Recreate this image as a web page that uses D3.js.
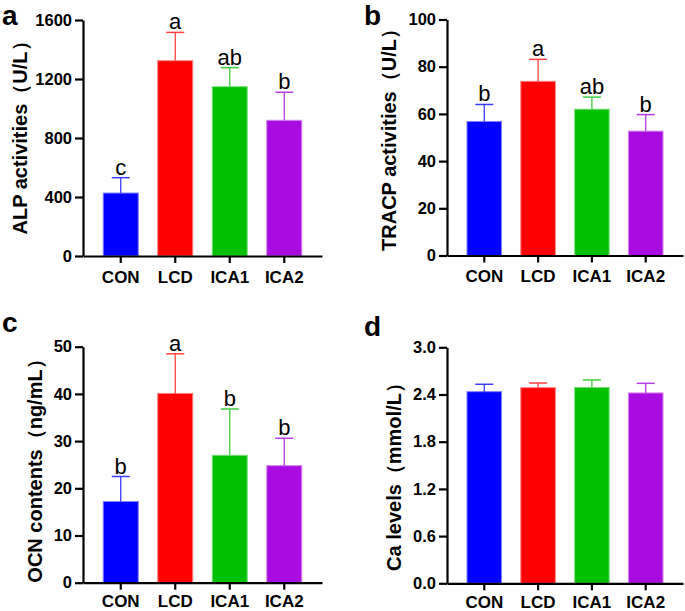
<!DOCTYPE html>
<html><head><meta charset="utf-8">
<script src="https://cdn.jsdelivr.net/npm/d3@7"></script>
<style>
html,body{margin:0;padding:0;background:#fff;}
svg{display:block;font-family:"Liberation Sans",Arial,sans-serif;}
</style></head>
<body>
<svg id="chart" width="685" height="611"></svg>
<script>
const groups = ["CON","LCD","ICA1","ICA2"];
const barColors = ["#0000FF","#FF0000","#00C000","#A90CE0"];
const lineColors = ["#3A3AFF","#FF4040","#40CC40","#B53CE6"];
const edgeColors = ["#7F7FFF","#FF7F7F","#7FDF7F","#D486F0"];

const alpMean = [427, 1324, 1148, 920];
const alpErr  = [531, 1516, 1277, 1110];
const alpTicks = [0, 400, 800, 1200, 1600];
const alpSig = ["c","a","ab","b"];

const tracpMean = [56.8, 73.8, 62.0, 52.7];
const tracpErr  = [64.0, 83.1, 67.1, 59.7];
const tracpTicks = [0, 20, 40, 60, 80, 100];
const tracpSig = ["b","a","ab","b"];

const ocnMean = [17.2, 40.1, 27.0, 24.8];
const ocnErr  = [22.5, 48.5, 36.8, 30.6];
const ocnTicks = [0, 10, 20, 30, 40, 50];
const ocnSig = ["b","a","b","b"];

const caMean = [2.436, 2.487, 2.49, 2.42];
const caErr  = [2.53, 2.546, 2.585, 2.542];
const caTicks = [0.0, 0.6, 1.2, 1.8, 2.4, 3.0];
const caSig = [null,null,null,null];

const svg = d3.select("#chart");
const FF = "'Liberation Sans',Arial,sans-serif";

function panel(cfg){
  const g = svg.append("g");
  const y = d3.scaleLinear().domain([0, cfg.ticks[cfg.ticks.length-1]]).range([cfg.y0, cfg.y1]);
  const x = d3.scaleBand().domain(groups).range([cfg.x0, cfg.x1]).paddingInner(0.339).paddingOuter(0.362);
  const bw = x.bandwidth();

  g.selectAll("rect.bar").data(cfg.mean).join("rect")
    .attr("x", (d,i)=>x(groups[i])+0.5)
    .attr("y", d=>y(d))
    .attr("width", bw-1)
    .attr("height", d=>cfg.y0 - y(d))
    .attr("fill", (d,i)=>barColors[i])
    .attr("stroke", (d,i)=>edgeColors[i])
    .attr("stroke-width", 1);

  const eg = g.selectAll("g.err").data(cfg.err).join("g");
  eg.append("line")
    .attr("x1",(d,i)=>x(groups[i])+bw/2).attr("x2",(d,i)=>x(groups[i])+bw/2)
    .attr("y1",(d,i)=>y(cfg.mean[i])).attr("y2",d=>y(d))
    .attr("stroke",(d,i)=>lineColors[i]).attr("stroke-width",1.3);
  eg.append("line")
    .attr("x1",(d,i)=>x(groups[i])+bw/2-9).attr("x2",(d,i)=>x(groups[i])+bw/2+9)
    .attr("y1",d=>y(d)).attr("y2",d=>y(d))
    .attr("stroke",(d,i)=>lineColors[i]).attr("stroke-width",1.5);

  g.selectAll("text.sig").data(cfg.sig).join("text")
    .filter(d=>d)
    .attr("x",(d,i)=>x(groups[i])+bw/2)
    .attr("y",(d,i)=>y(cfg.err[i])-3)
    .attr("text-anchor","middle")
    .attr("font-size","22px")
    .attr("fill","#000")
    .text(d=>d);

  const ya = g.append("g").attr("transform",`translate(${cfg.x0},0)`)
    .call(d3.axisLeft(y).tickValues(cfg.ticks).tickFormat(cfg.fmt).tickSize(8).tickSizeOuter(0).tickPadding(3));
  ya.select(".domain").attr("stroke","#000").attr("stroke-width",2.2);
  ya.selectAll(".tick line").attr("stroke","#000").attr("stroke-width",2.2);
  ya.selectAll(".tick text").attr("font-size","16.5px").attr("font-weight","bold").attr("fill","#000")
    .attr("font-family",FF);

  const xa = g.append("g").attr("transform",`translate(0,${cfg.y0})`)
    .call(d3.axisBottom(x).tickSize(7).tickSizeOuter(0).tickPadding(cfg.xpad));
  xa.select(".domain").attr("stroke","#000").attr("stroke-width",2.2);
  xa.selectAll(".tick line").attr("stroke","#000").attr("stroke-width",2.2);
  xa.selectAll(".tick text").attr("font-size","17px").attr("font-weight","bold").attr("fill","#000")
    .attr("font-family",FF);

  g.append("text")
    .attr("transform",`translate(${cfg.tx},${cfg.ty}) rotate(-90)`)
    .attr("text-anchor","middle")
    .attr("font-size","20px").attr("font-weight","bold")
    .text(cfg.title);

  g.append("text").attr("x",cfg.lx).attr("y",cfg.ly)
    .attr("font-size","28px").attr("font-weight","bold").text(cfg.letter);
}

panel({mean:alpMean, err:alpErr, ticks:alpTicks, sig:alpSig, fmt:d3.format("d"),
  x0:83, x1:322, y0:256, y1:20, xpad:7.5, title:"ALP activities（U/L）", tx:27, ty:133, letter:"a", lx:2, ly:25});
panel({mean:tracpMean, err:tracpErr, ticks:tracpTicks, sig:tracpSig, fmt:d3.format("d"),
  x0:447, x1:683, y0:255.5, y1:19.5, xpad:7, title:"TRACP activities（U/L）", tx:396, ty:135, letter:"b", lx:364, ly:25});
panel({mean:ocnMean, err:ocnErr, ticks:ocnTicks, sig:ocnSig, fmt:d3.format("d"),
  x0:83, x1:322, y0:582.7, y1:346.7, xpad:5, title:"OCN contents（ng/mL）", tx:42, ty:466, letter:"c", lx:2, ly:332});
panel({mean:caMean, err:caErr, ticks:caTicks, sig:caSig, fmt:d3.format(".1f"),
  x0:447, x1:683, y0:583.3, y1:347.3, xpad:5.5, title:"Ca levels（mmol/L）", tx:401, ty:472, letter:"d", lx:364, ly:336});
</script>
</body></html>
